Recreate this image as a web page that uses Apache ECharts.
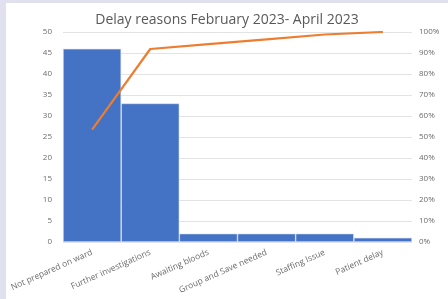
<!DOCTYPE html>
<html>
<head>
<meta charset="utf-8">
<script src="https://cdn.jsdelivr.net/npm/echarts@6/dist/echarts.min.js"></script>
<style>
  html, body { margin: 0; padding: 0; background: #e0e0ee; }
  #chart { position: absolute; left: 6px; top: 3px; width: 442px; height: 296px; background: #fff; }
</style>
</head>
<body>
<div id="chart"></div>
<script>
// 数据
const categories = ['Not prepared on ward', 'Further investigations', 'Awaiting bloods',
  'Group and Save needed', 'Staffing Issue', 'Patient delay'];
const counts = [46, 33, 2, 2, 2, 1];
const cumulativePct = [53.5, 91.9, 94.2, 96.5, 98.8, 100];

const chart = echarts.init(document.getElementById('chart'));
const grey = '#6b6b6b';

chart.setOption({
  animation: false,
  title: {
    text: 'Delay reasons February 2023- April 2023',
    left: 'center',
    top: 5,
    textStyle: { fontFamily: 'Open Sans', fontSize: 14, fontWeight: 'normal', color: '#595959' }
  },
  grid: { left: 57, right: 36, top: 29, bottom: 57 },
  xAxis: {
    type: 'category',
    data: categories,
    axisTick: { show: false },
    axisLine: { show: false },
    axisLabel: { interval: 0, rotate: 24, fontSize: 8.5, color: grey, margin: 10, fontFamily: 'Open Sans' }
  },
  yAxis: [{
    type: 'value', min: 0, max: 50, interval: 5,
    axisLabel: { fontSize: 8, color: grey, margin: 11, fontFamily: 'Open Sans' },
    splitLine: { lineStyle: { color: '#e3e3e3' } }
  }, {
    type: 'value', min: 0, max: 100, interval: 10,
    axisLabel: { formatter: '{value}%', fontSize: 8, color: grey, margin: 7, fontFamily: 'Open Sans' },
    splitLine: { show: false }
  }],
  series: [{
    type: 'bar',
    data: counts,
    barCategoryGap: 0,
    itemStyle: { color: '#4472c4', borderColor: '#dfe6f3', borderWidth: 0.6 }
  }, {
    type: 'line',
    yAxisIndex: 1,
    data: cumulativePct,
    symbol: 'none',
    lineStyle: { color: '#ed7d31', width: 2.2 }
  }]
});
</script>
</body>
</html>
